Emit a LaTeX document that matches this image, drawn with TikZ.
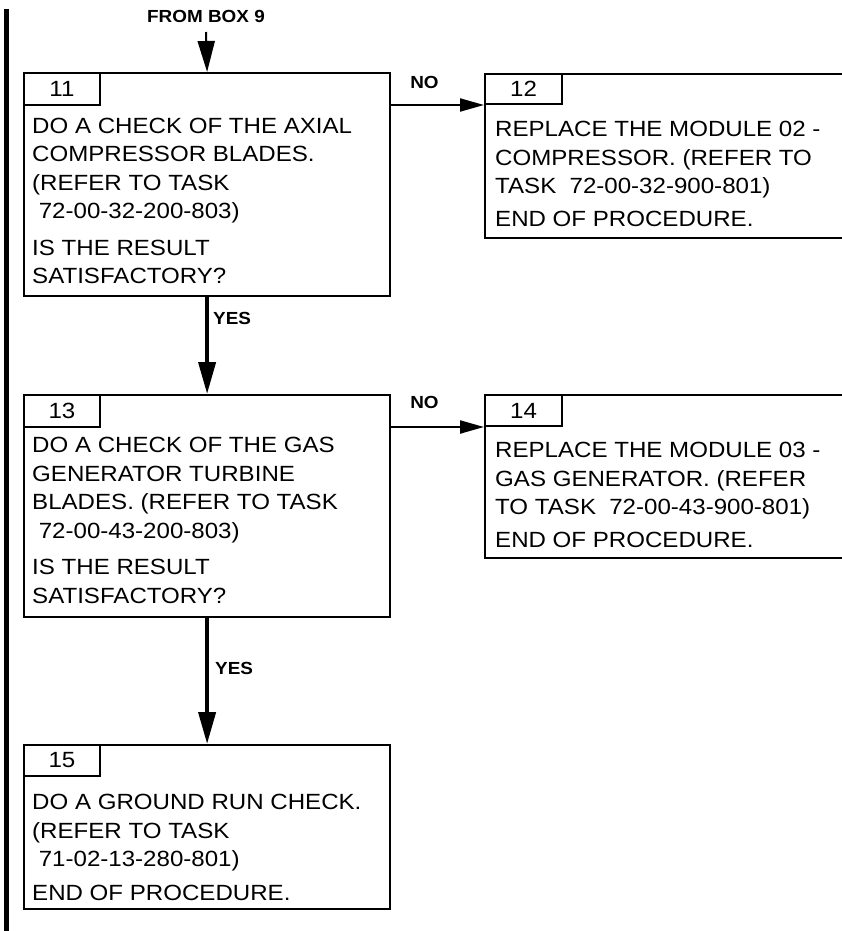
\documentclass[tikz,border=0pt]{standalone}
\usepackage{fontspec}
\setmainfont{Liberation Sans}[FakeStretch=1.095]
\usetikzlibrary{arrows.meta}
\newcommand\bxfont{\fontsize{22}{28.5}\selectfont}
\newcommand\lblfont{\fontsize{17.5}{20}\selectfont\bfseries\addfontfeatures{FakeStretch=1.08}}
\begin{document}
\begin{tikzpicture}[x=1pt,y=-1pt,
  stepbox/.style={draw, line width=2.2pt, rectangle, anchor=north west, inner sep=0pt},
  numtab/.style={draw, line width=2pt, rectangle, anchor=north west, inner sep=0pt, font=\bxfont},
  bodytext/.style={anchor=base west, align=left, inner sep=0pt, font=\bxfont},
  lbl/.style={inner sep=0pt, font=\lblfont},
  yesarrow/.style={line width=4pt, -{Triangle[length=32pt,width=17pt]}},
  noarrow/.style={line width=2.2pt, -{Triangle[length=24pt,width=13pt]}},
  inarrow/.style={line width=2pt, -{Triangle[length=31pt,width=17pt]}}
]
\useasboundingbox (0,0) rectangle (842,931);
\clip (0,0) rectangle (842,931);
\fill[white] (0,0) rectangle (842,931);

% left change bar
\coordinate (bartop) at (6.5,9);
\coordinate (barbot) at (6.5,935);
\draw[line width=5pt] (bartop) -- (barbot);

% boxes
\node[stepbox, minimum width=366pt, minimum height=223pt] (b11) at (23,72) {};
\node[stepbox, minimum width=366pt, minimum height=222pt] (b13) at (23,394) {};
\node[stepbox, minimum width=366pt, minimum height=164pt] (b15) at (23,744) {};
\node[stepbox, minimum width=400pt, minimum height=164pt] (b12) at (484,73) {};
\node[stepbox, minimum width=400pt, minimum height=163pt] (b14) at (484,394) {};

% number tabs
\node[numtab, minimum width=76pt, minimum height=32pt] (t11) at (23,72) {11};
\node[numtab, minimum width=76pt, minimum height=32pt] (t13) at (23,394) {13};
\node[numtab, minimum width=76pt, minimum height=31pt] (t15) at (23,744) {15};
\node[numtab, minimum width=77pt, minimum height=30pt] (t12) at (484,73) {12};
\node[numtab, minimum width=77pt, minimum height=31pt] (t14) at (484,394) {14};

% texts (anchored at the baseline of their last line)
\node[bodytext] (x11) at (32,283.5) {DO A CHECK OF THE AXIAL\\COMPRESSOR BLADES.\\(REFER TO TASK\\\hspace*{0.3em}72-00-32-200-803)\\[8pt]IS THE RESULT\\SATISFACTORY?};
\node[bodytext] (x13) at (32,603) {DO A CHECK OF THE GAS\\GENERATOR TURBINE\\BLADES. (REFER TO TASK\\\hspace*{0.3em}72-00-43-200-803)\\[8pt]IS THE RESULT\\SATISFACTORY?};
\node[bodytext] (x15) at (32,900) {DO A GROUND RUN CHECK.\\(REFER TO TASK\\\hspace*{0.3em}71-02-13-280-801)\\[5pt]END OF PROCEDURE.};
\node[bodytext] (x12) at (495,226) {REPLACE THE MODULE 02 -\\COMPRESSOR. (REFER TO\\TASK\hspace{0.3em} 72-00-32-900-801)\\[4pt]END OF PROCEDURE.};
\node[bodytext] (x14) at (495,547) {REPLACE THE MODULE 03 -\\GAS GENERATOR. (REFER\\TO TASK\hspace{0.3em} 72-00-43-900-801)\\[4pt]END OF PROCEDURE.};

% labels
\node[lbl] (from) at (206,16.5) {FROM BOX 9};
\node[lbl, anchor=west] (yes1) at (213,318) {YES};
\node[lbl, anchor=west] (yes2) at (215,668) {YES};
\node[lbl] (no1) at (424.5,82.5) {NO};
\node[lbl] (no2) at (424.5,402.5) {NO};

% connectors
\coordinate (fromtail) at (206,32);
\draw[inarrow] (fromtail) -- (b11.north);
\draw[yesarrow] (b11.south) -- (b13.north);
\draw[yesarrow] (b13.south) -- (b15.north);
\draw[noarrow] (b11.east |- t12.south west) -- (t12.south west);
\draw[noarrow] (b13.east |- t14.south west) -- (t14.south west);
\end{tikzpicture}
\end{document}
